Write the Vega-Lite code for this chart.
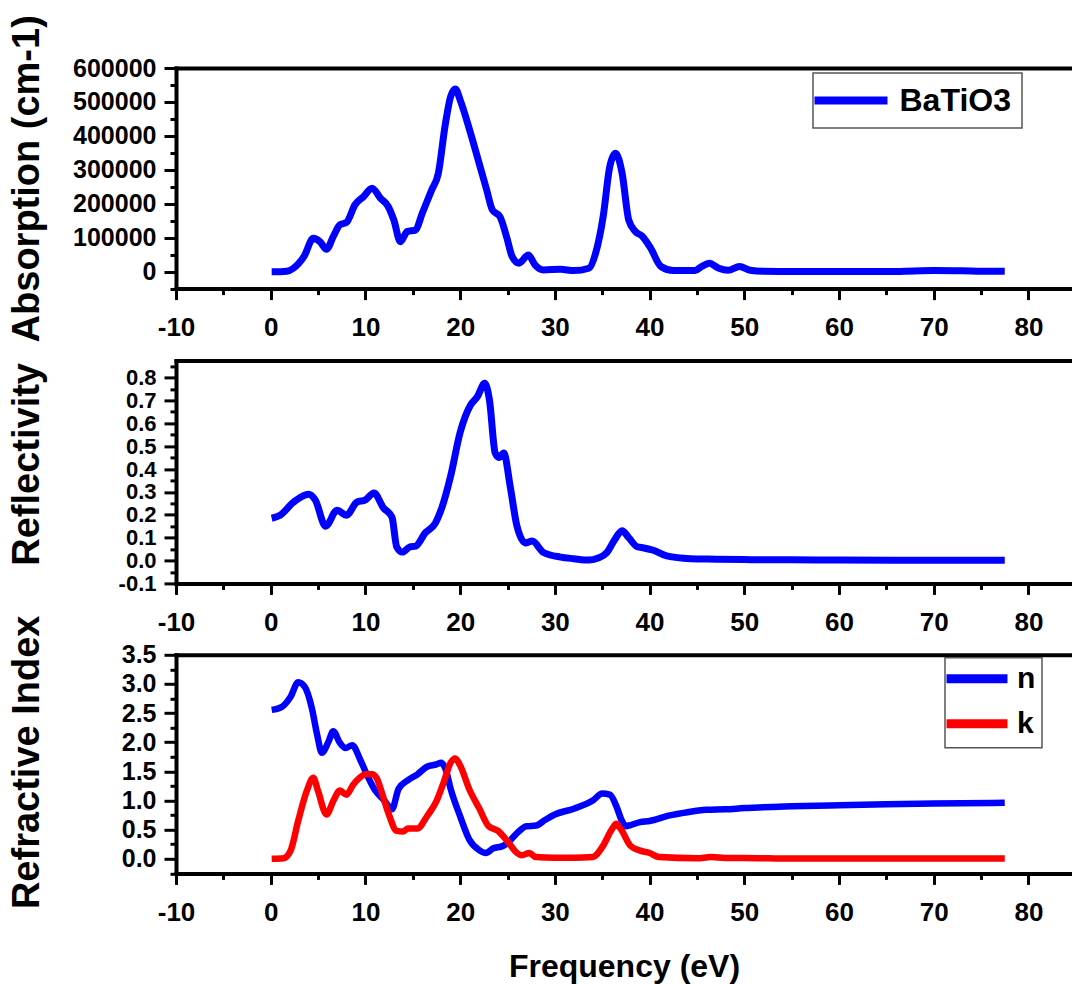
{
  "$schema": "https://vega.github.io/schema/vega-lite/v6.json",
  "background": "white",
  "padding": {"left": 7, "top": 14, "right": 0, "bottom": 4},
  "bounds": "flush",
  "spacing": 71.4,
  "resolve": {"scale": {"color": "independent"}, "legend": {"color": "independent"}},
  "config": {
    "view": {"stroke": null},
    "axis": {"grid": false, "domainColor": "black", "domainWidth": 4, "domainCap": "square", "tickColor": "black", "tickWidth": 3, "labelColor": "black", "titleColor": "black", "labelFontWeight": "bold", "titleFontWeight": "bold", "labelOverlap": false, "labelFlush": false},
    "axisX": {"labelFont": "Liberation Sans", "labelFontSize": 26, "labelPadding": 15, "titleFont": "Liberation Sans", "titleFontSize": 32, "titlePadding": 26},
    "axisY": {"labelFont": "Liberation Sans", "labelFontSize": 25, "labelPadding": 8, "titleFont": "Liberation Sans", "titleFontSize": 38, "titleX": -138, "titleBaseline": "alphabetic"},
    "legend": {"title": null, "orient": "none", "labelColor": "black", "labelFont": "Liberation Sans", "labelFontWeight": "bold", "strokeColor": "#555555", "strokeWidth": 1.5, "fillColor": "white", "symbolType": "M-3,0H3", "symbolFillColor": "transparent"}
  },
  "datasets": {
    "abs": [
      {"e":0.1,"v":0,"s":"BaTiO3"},{"e":1.0,"v":0,"s":"BaTiO3"},{"e":1.7,"v":1000,"s":"BaTiO3"},{"e":2.4,"v":10000,"s":"BaTiO3"},{"e":3.5,"v":44000,"s":"BaTiO3"},{"e":4.5,"v":98000,"s":"BaTiO3"},{"e":5.2,"v":88000,"s":"BaTiO3"},{"e":5.9,"v":66000,"s":"BaTiO3"},{"e":6.6,"v":103000,"s":"BaTiO3"},{"e":7.3,"v":138000,"s":"BaTiO3"},{"e":8.0,"v":145000,"s":"BaTiO3"},{"e":8.9,"v":197000,"s":"BaTiO3"},{"e":9.8,"v":221000,"s":"BaTiO3"},{"e":10.7,"v":246000,"s":"BaTiO3"},{"e":11.6,"v":216000,"s":"BaTiO3"},{"e":12.4,"v":192000,"s":"BaTiO3"},{"e":13.0,"v":152000,"s":"BaTiO3"},{"e":13.7,"v":88000,"s":"BaTiO3"},{"e":14.4,"v":118000,"s":"BaTiO3"},{"e":15.3,"v":123000,"s":"BaTiO3"},{"e":16.0,"v":172000,"s":"BaTiO3"},{"e":17.0,"v":241000,"s":"BaTiO3"},{"e":17.7,"v":290000,"s":"BaTiO3"},{"e":18.4,"v":428000,"s":"BaTiO3"},{"e":19.0,"v":516000,"s":"BaTiO3"},{"e":19.5,"v":538000,"s":"BaTiO3"},{"e":20.0,"v":506000,"s":"BaTiO3"},{"e":21.1,"v":408000,"s":"BaTiO3"},{"e":22.1,"v":310000,"s":"BaTiO3"},{"e":22.8,"v":241000,"s":"BaTiO3"},{"e":23.4,"v":182000,"s":"BaTiO3"},{"e":24.2,"v":162000,"s":"BaTiO3"},{"e":24.9,"v":103000,"s":"BaTiO3"},{"e":25.5,"v":44000,"s":"BaTiO3"},{"e":26.2,"v":25000,"s":"BaTiO3"},{"e":27.2,"v":49000,"s":"BaTiO3"},{"e":27.9,"v":20000,"s":"BaTiO3"},{"e":28.8,"v":5000,"s":"BaTiO3"},{"e":30.6,"v":7000,"s":"BaTiO3"},{"e":32.0,"v":3000,"s":"BaTiO3"},{"e":33.6,"v":10000,"s":"BaTiO3"},{"e":34.3,"v":54000,"s":"BaTiO3"},{"e":35.1,"v":162000,"s":"BaTiO3"},{"e":35.8,"v":310000,"s":"BaTiO3"},{"e":36.4,"v":349000,"s":"BaTiO3"},{"e":37.1,"v":290000,"s":"BaTiO3"},{"e":37.8,"v":152000,"s":"BaTiO3"},{"e":38.5,"v":118000,"s":"BaTiO3"},{"e":39.2,"v":105000,"s":"BaTiO3"},{"e":40.1,"v":70000,"s":"BaTiO3"},{"e":41.2,"v":15000,"s":"BaTiO3"},{"e":42.5,"v":3000,"s":"BaTiO3"},{"e":44.8,"v":3000,"s":"BaTiO3"},{"e":45.5,"v":15000,"s":"BaTiO3"},{"e":46.3,"v":25000,"s":"BaTiO3"},{"e":47.3,"v":10000,"s":"BaTiO3"},{"e":48.3,"v":4000,"s":"BaTiO3"},{"e":49.5,"v":15000,"s":"BaTiO3"},{"e":50.6,"v":4000,"s":"BaTiO3"},{"e":52.0,"v":1000,"s":"BaTiO3"},{"e":55,"v":500,"s":"BaTiO3"},{"e":60,"v":300,"s":"BaTiO3"},{"e":65,"v":500,"s":"BaTiO3"},{"e":68,"v":2000,"s":"BaTiO3"},{"e":70,"v":3000,"s":"BaTiO3"},{"e":73,"v":2500,"s":"BaTiO3"},{"e":75,"v":1000,"s":"BaTiO3"},{"e":77.5,"v":800,"s":"BaTiO3"}
    ],
    "refl": [
      {"e":0.1,"v":0.185},{"e":1.0,"v":0.198},{"e":2.4,"v":0.255},{"e":4.0,"v":0.29},{"e":4.7,"v":0.265},{"e":5.8,"v":0.15},{"e":7.0,"v":0.22},{"e":8.0,"v":0.198},{"e":9.1,"v":0.255},{"e":10.0,"v":0.265},{"e":10.9,"v":0.295},{"e":11.9,"v":0.23},{"e":12.8,"v":0.19},{"e":13.3,"v":0.06},{"e":13.9,"v":0.037},{"e":14.7,"v":0.06},{"e":15.3,"v":0.063},{"e":16.3,"v":0.12},{"e":17.4,"v":0.165},{"e":18.1,"v":0.235},{"e":19.0,"v":0.37},{"e":20.0,"v":0.56},{"e":21.1,"v":0.68},{"e":21.8,"v":0.715},{"e":22.6,"v":0.775},{"e":23.1,"v":0.70},{"e":23.7,"v":0.47},{"e":24.1,"v":0.45},{"e":24.6,"v":0.47},{"e":25.3,"v":0.32},{"e":26.0,"v":0.15},{"e":26.9,"v":0.077},{"e":27.6,"v":0.085},{"e":28.8,"v":0.035},{"e":30.6,"v":0.015},{"e":32.0,"v":0.008},{"e":33.6,"v":0.002},{"e":34.5,"v":0.01},{"e":35.5,"v":0.035},{"e":36.3,"v":0.09},{"e":37.1,"v":0.13},{"e":37.8,"v":0.10},{"e":38.7,"v":0.06},{"e":39.4,"v":0.055},{"e":40.4,"v":0.045},{"e":41.8,"v":0.02},{"e":44.3,"v":0.008},{"e":47,"v":0.006},{"e":50,"v":0.004},{"e":55,"v":0.003},{"e":60,"v":0.002},{"e":70,"v":0.001},{"e":77.5,"v":0.001}
    ],
    "nk": [
      {"e":0.1,"s":"n","v":2.555},{"e":1.2,"s":"n","v":2.61},{"e":2.1,"s":"n","v":2.78},{"e":2.9,"s":"n","v":3.03},{"e":3.6,"s":"n","v":2.95},{"e":4.35,"s":"n","v":2.58},{"e":4.9,"s":"n","v":2.13},{"e":5.4,"s":"n","v":1.82},{"e":6.1,"s":"n","v":2.01},{"e":6.6,"s":"n","v":2.19},{"e":7.3,"s":"n","v":1.99},{"e":7.9,"s":"n","v":1.90},{"e":8.6,"s":"n","v":1.95},{"e":9.45,"s":"n","v":1.70},{"e":10.0,"s":"n","v":1.50},{"e":11.0,"s":"n","v":1.18},{"e":12.0,"s":"n","v":1.0},{"e":12.8,"s":"n","v":0.85},{"e":13.5,"s":"n","v":1.2},{"e":14.5,"s":"n","v":1.35},{"e":15.5,"s":"n","v":1.45},{"e":16.5,"s":"n","v":1.58},{"e":17.5,"s":"n","v":1.62},{"e":18.0,"s":"n","v":1.65},{"e":18.5,"s":"n","v":1.52},{"e":19.0,"s":"n","v":1.2},{"e":20.0,"s":"n","v":0.73},{"e":21.0,"s":"n","v":0.32},{"e":22.0,"s":"n","v":0.15},{"e":22.7,"s":"n","v":0.10},{"e":23.5,"s":"n","v":0.18},{"e":24.5,"s":"n","v":0.22},{"e":25.0,"s":"n","v":0.27},{"e":26.0,"s":"n","v":0.44},{"e":27.0,"s":"n","v":0.56},{"e":28.0,"s":"n","v":0.57},{"e":29.0,"s":"n","v":0.67},{"e":30.0,"s":"n","v":0.76},{"e":32.0,"s":"n","v":0.86},{"e":34.0,"s":"n","v":1.0},{"e":35.0,"s":"n","v":1.12},{"e":35.8,"s":"n","v":1.1},{"e":36.5,"s":"n","v":0.9},{"e":37.0,"s":"n","v":0.68},{"e":37.5,"s":"n","v":0.56},{"e":38.0,"s":"n","v":0.58},{"e":39.0,"s":"n","v":0.63},{"e":40.0,"s":"n","v":0.65},{"e":42.0,"s":"n","v":0.74},{"e":44.0,"s":"n","v":0.8},{"e":46.0,"s":"n","v":0.84},{"e":48.0,"s":"n","v":0.85},{"e":50.0,"s":"n","v":0.87},{"e":55,"s":"n","v":0.9},{"e":60,"s":"n","v":0.92},{"e":65,"s":"n","v":0.935},{"e":70,"s":"n","v":0.95},{"e":77.5,"s":"n","v":0.96},
      {"e":0.1,"s":"k","v":0},{"e":1.35,"s":"k","v":0.01},{"e":2.1,"s":"k","v":0.14},{"e":2.9,"s":"k","v":0.65},{"e":3.8,"s":"k","v":1.16},{"e":4.5,"s":"k","v":1.39},{"e":5.0,"s":"k","v":1.16},{"e":5.9,"s":"k","v":0.76},{"e":6.6,"s":"k","v":0.99},{"e":7.3,"s":"k","v":1.17},{"e":8.0,"s":"k","v":1.10},{"e":8.7,"s":"k","v":1.27},{"e":9.45,"s":"k","v":1.40},{"e":10.0,"s":"k","v":1.45},{"e":10.7,"s":"k","v":1.45},{"e":11.2,"s":"k","v":1.38},{"e":11.8,"s":"k","v":1.1},{"e":12.5,"s":"k","v":0.75},{"e":13.3,"s":"k","v":0.48},{"e":14.0,"s":"k","v":0.47},{"e":14.5,"s":"k","v":0.52},{"e":15.5,"s":"k","v":0.52},{"e":16.5,"s":"k","v":0.73},{"e":17.5,"s":"k","v":0.99},{"e":18.3,"s":"k","v":1.33},{"e":19.0,"s":"k","v":1.65},{"e":19.5,"s":"k","v":1.72},{"e":20.0,"s":"k","v":1.6},{"e":21.0,"s":"k","v":1.18},{"e":22.0,"s":"k","v":0.87},{"e":23.0,"s":"k","v":0.56},{"e":24.0,"s":"k","v":0.48},{"e":25.0,"s":"k","v":0.3},{"e":26.0,"s":"k","v":0.1},{"e":26.5,"s":"k","v":0.06},{"e":27.3,"s":"k","v":0.1},{"e":28.0,"s":"k","v":0.03},{"e":30,"s":"k","v":0.02},{"e":32,"s":"k","v":0.02},{"e":34,"s":"k","v":0.03},{"e":35,"s":"k","v":0.2},{"e":36,"s":"k","v":0.5},{"e":36.5,"s":"k","v":0.6},{"e":37,"s":"k","v":0.5},{"e":38,"s":"k","v":0.22},{"e":39,"s":"k","v":0.14},{"e":40,"s":"k","v":0.1},{"e":41,"s":"k","v":0.03},{"e":45,"s":"k","v":0.01},{"e":46.5,"s":"k","v":0.03},{"e":48,"s":"k","v":0.015},{"e":50,"s":"k","v":0.015},{"e":55,"s":"k","v":0.005},{"e":77.5,"s":"k","v":0.005}
    ]
  },
  "vconcat": [
    {
      "width": 896, "height": 220.6,
      "data": {"name": "abs"},
      "layer": [
        {
          "mark": {"type": "line", "strokeWidth": 7, "interpolate": "monotone"},
          "encoding": {
            "x": {"field": "e", "type": "quantitative", "scale": {"domain": [-10, 84.6], "nice": false, "zero": false},
                  "axis": {"orient": "bottom", "title": null, "values": [-10,-5,0,5,10,15,20,25,30,35,40,45,50,55,60,65,70,75,80],
                           "labelExpr": "datum.value % 10 === 0 ? (datum.value < 0 ? '-' : '') + format(abs(datum.value), 'd') : ''",
                           "tickSize": {"condition": {"test": "datum.value % 10 === 0", "value": 11}, "value": 6}}},
            "y": {"field": "v", "type": "quantitative", "scale": {"domain": [-50000, 600000], "nice": false, "zero": false},
                  "axis": {"title": "Absorption (cm-1)", "values": [-50000,0,50000,100000,150000,200000,250000,300000,350000,400000,450000,500000,550000,600000],
                           "labelExpr": "datum.value % 100000 === 0 ? format(datum.value, 'd') : ''",
                           "tickSize": {"condition": {"test": "datum.value % 100000 === 0", "value": 12}, "value": 6}}},
            "color": {"field": "s", "type": "nominal", "scale": {"domain": ["BaTiO3"], "range": ["#0000ff"]},
                      "legend": {"legendX": 637, "legendY": 5, "padding": 11, "symbolSize": 592, "symbolStrokeWidth": 8, "symbolOffset": 10.5, "labelOffset": 32, "labelFontSize": 32}}
          }
        },
        {
          "mark": {"type": "rule", "opacity": 0},
          "encoding": {
            "x": {"field": "e", "type": "quantitative", "axis": {"orient": "top", "title": null, "labels": false, "ticks": false, "domain": true}}
          }
        }
      ],
      "resolve": {"axis": {"x": "independent"}}
    },
    {
      "width": 896, "height": 223,
      "data": {"name": "refl"},
      "layer": [
        {
          "mark": {"type": "line", "strokeWidth": 7, "interpolate": "monotone", "color": "#0000ff"},
          "encoding": {
            "x": {"field": "e", "type": "quantitative", "scale": {"domain": [-10, 84.6], "nice": false, "zero": false},
                  "axis": {"orient": "bottom", "title": null, "values": [-10,-5,0,5,10,15,20,25,30,35,40,45,50,55,60,65,70,75,80],
                           "labelExpr": "datum.value % 10 === 0 ? (datum.value < 0 ? '-' : '') + format(abs(datum.value), 'd') : ''",
                           "tickSize": {"condition": {"test": "datum.value % 10 === 0", "value": 11}, "value": 6}}},
            "y": {"field": "v", "type": "quantitative", "scale": {"domain": [-0.1, 0.875], "nice": false, "zero": false},
                  "axis": {"title": "Reflectivity", "titleY": 103.5, "labelFontSize": 22, "values": [-0.1,-0.05,0,0.05,0.1,0.15,0.2,0.25,0.3,0.35,0.4,0.45,0.5,0.55,0.6,0.65,0.7,0.75,0.8,0.85],
                           "labelExpr": "abs(round(datum.value*100)) % 10 === 0 ? (datum.value < -0.001 ? '-' : '') + format(abs(datum.value), '.1f') : ''",
                           "tickSize": {"condition": {"test": "abs(round(datum.value*100)) % 10 === 0", "value": 12}, "value": 6}}}
          }
        },
        {
          "mark": {"type": "rule", "opacity": 0},
          "encoding": {
            "x": {"field": "e", "type": "quantitative", "axis": {"orient": "top", "title": null, "labels": false, "ticks": false, "domain": true}}
          }
        }
      ],
      "resolve": {"axis": {"x": "independent"}}
    },
    {
      "width": 896, "height": 218.6,
      "data": {"name": "nk"},
      "layer": [
        {
          "mark": {"type": "line", "strokeWidth": 6.5, "interpolate": "monotone"},
          "encoding": {
            "x": {"field": "e", "type": "quantitative", "scale": {"domain": [-10, 84.6], "nice": false, "zero": false},
                  "axis": {"orient": "bottom", "title": "Frequency (eV)", "values": [-10,-5,0,5,10,15,20,25,30,35,40,45,50,55,60,65,70,75,80],
                           "labelExpr": "datum.value % 10 === 0 ? (datum.value < 0 ? '-' : '') + format(abs(datum.value), 'd') : ''",
                           "tickSize": {"condition": {"test": "datum.value % 10 === 0", "value": 11}, "value": 6}}},
            "y": {"field": "v", "type": "quantitative", "scale": {"domain": [-0.25, 3.5], "nice": false, "zero": false},
                  "axis": {"title": "Refractive Index", "titleY": 107, "values": [-0.25,0,0.25,0.5,0.75,1,1.25,1.5,1.75,2,2.25,2.5,2.75,3,3.25,3.5],
                           "labelExpr": "abs(round(datum.value*100)) % 50 === 0 ? (datum.value < -0.001 ? '-' : '') + format(abs(datum.value), '.1f') : ''",
                           "tickSize": {"condition": {"test": "abs(round(datum.value*100)) % 50 === 0", "value": 12}, "value": 6}}},
            "color": {"field": "s", "type": "nominal", "scale": {"domain": ["n", "k"], "range": ["#0000ff", "#ff0000"]},
                      "legend": {"legendX": 769, "legendY": 3, "padding": 6, "symbolSize": 413, "symbolStrokeWidth": 9, "symbolOffset": 11, "labelOffset": 25, "labelFontSize": 30, "rowPadding": 9}}
          }
        },
        {
          "mark": {"type": "rule", "opacity": 0},
          "encoding": {
            "x": {"field": "e", "type": "quantitative", "axis": {"orient": "top", "title": null, "labels": false, "ticks": false, "domain": true}}
          }
        }
      ],
      "resolve": {"axis": {"x": "independent"}}
    }
  ]
}
